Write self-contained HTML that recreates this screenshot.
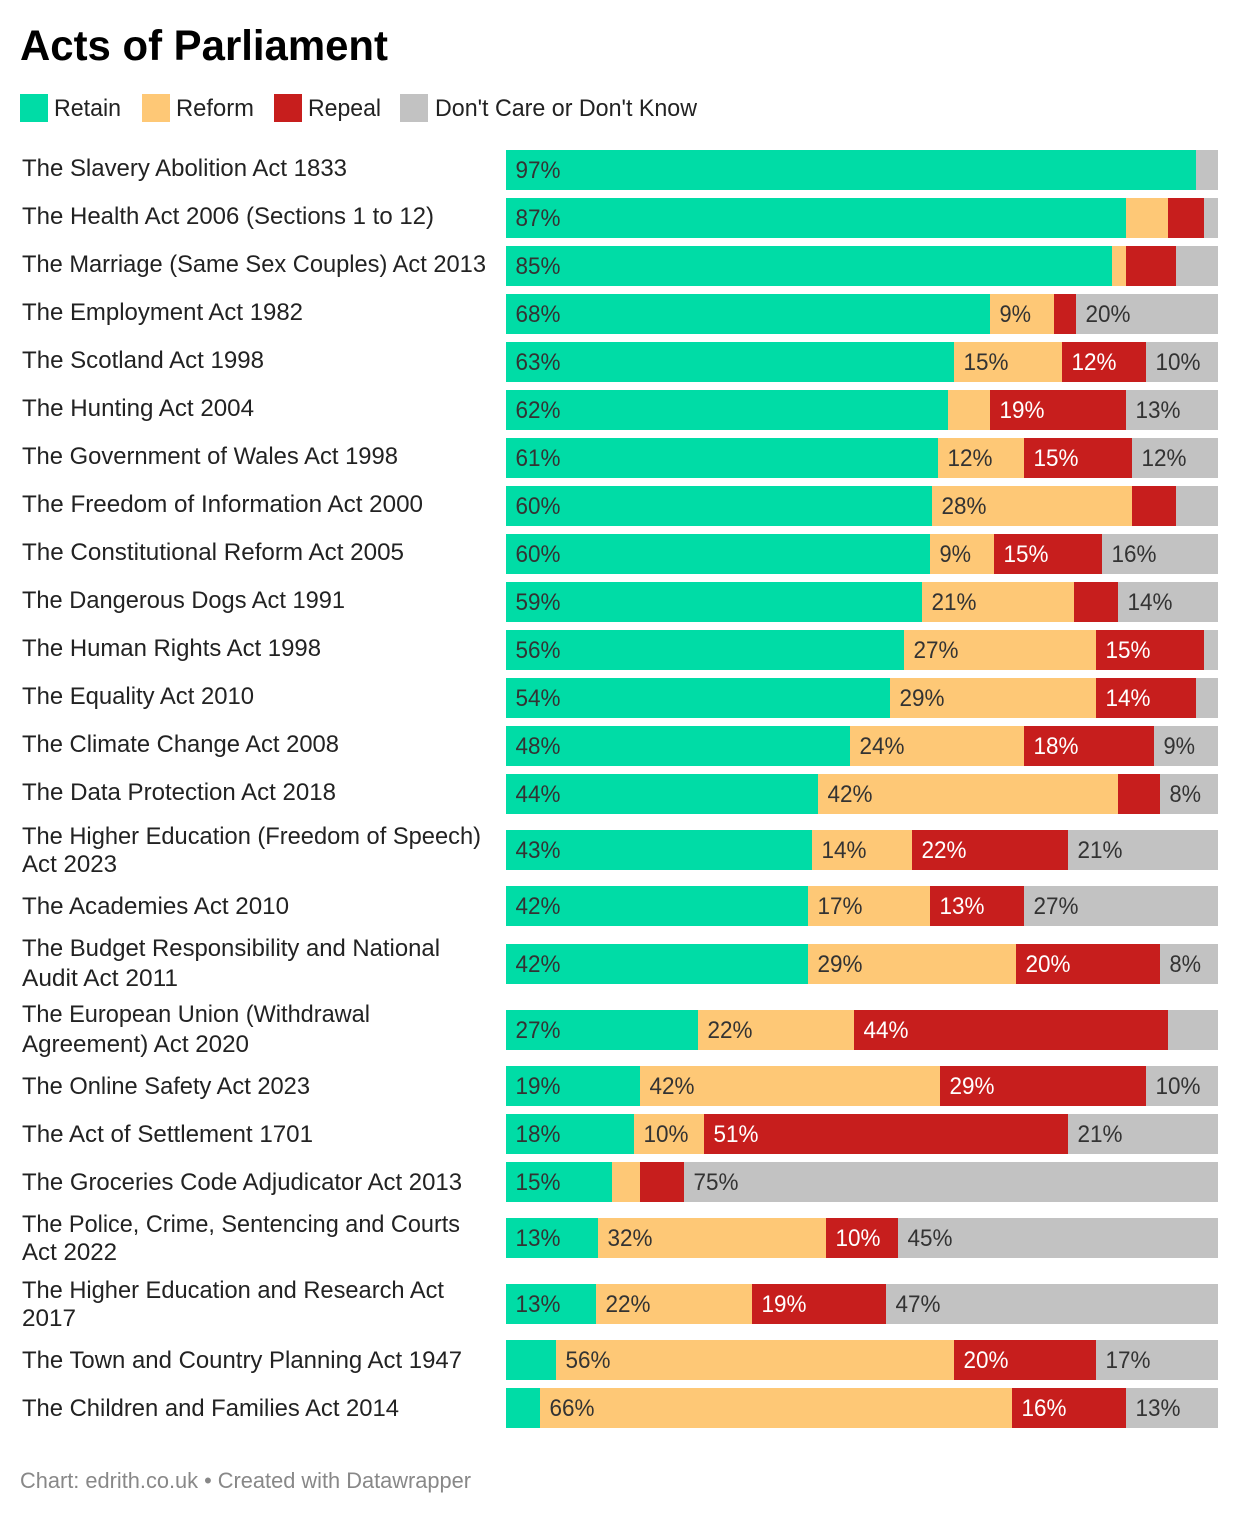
<!DOCTYPE html>
<html lang="en">
<head>
<meta charset="utf-8">
<title>Acts of Parliament</title>
<style>
  html, body { margin: 0; padding: 0; background: #fff; }
  svg { display: block; font-family: "Liberation Sans", sans-serif; }
  .row-label { font-size: 24px; fill: #222; }
  .value-label { font-size: 24px; }
  .legend-label { font-size: 24px; fill: #222; }
</style>
</head>
<body>
<svg id="chart" xmlns="http://www.w3.org/2000/svg" width="1240" height="1516" viewBox="0 0 1240 1516">
  <text x="20" y="60" font-size="43" font-weight="700" fill="#000" textLength="368" lengthAdjust="spacingAndGlyphs">Acts of Parliament</text>
  <g>
    <rect x="20" y="94" width="28" height="28" fill="#00dca6"/>
    <text class="legend-label" x="54" y="116" textLength="67" lengthAdjust="spacingAndGlyphs">Retain</text>
    <rect x="142" y="94" width="28" height="28" fill="#fec876"/>
    <text class="legend-label" x="176" y="116" textLength="78" lengthAdjust="spacingAndGlyphs">Reform</text>
    <rect x="274" y="94" width="28" height="28" fill="#c71e1d"/>
    <text class="legend-label" x="308" y="116" textLength="73" lengthAdjust="spacingAndGlyphs">Repeal</text>
    <rect x="400" y="94" width="28" height="28" fill="#c2c2c2"/>
    <text class="legend-label" x="435" y="116" textLength="262" lengthAdjust="spacingAndGlyphs">Don't Care or Don't Know</text>
  </g>
  <g id="rows"></g>
  <text x="20" y="1488" font-size="22" fill="#888" textLength="451" lengthAdjust="spacingAndGlyphs">Chart: edrith.co.uk • Created with Datawrapper</text>
</svg>
<script>
const categories = [
  "The Slavery Abolition Act 1833",
  "The Health Act 2006 (Sections 1 to 12)",
  "The Marriage (Same Sex Couples) Act 2013",
  "The Employment Act 1982",
  "The Scotland Act 1998",
  "The Hunting Act 2004",
  "The Government of Wales Act 1998",
  "The Freedom of Information Act 2000",
  "The Constitutional Reform Act 2005",
  "The Dangerous Dogs Act 1991",
  "The Human Rights Act 1998",
  "The Equality Act 2010",
  "The Climate Change Act 2008",
  "The Data Protection Act 2018",
  "The Higher Education (Freedom of Speech)\nAct 2023",
  "The Academies Act 2010",
  "The Budget Responsibility and National\nAudit Act 2011",
  "The European Union (Withdrawal\nAgreement) Act 2020",
  "The Online Safety Act 2023",
  "The Act of Settlement 1701",
  "The Groceries Code Adjudicator Act 2013",
  "The Police, Crime, Sentencing and Courts\nAct 2022",
  "The Higher Education and Research Act\n2017",
  "The Town and Country Planning Act 1947",
  "The Children and Families Act 2014"
];
const retain = [96.9, 87.1, 85.1, 68.0, 62.9, 62.1, 60.7, 59.8, 59.6, 58.5, 55.9, 53.9, 48.3, 43.8, 43.0, 42.4, 42.4, 27.0, 18.8, 18.0, 14.9, 12.9, 12.6, 7.0, 4.8];
const reform = [0, 5.9, 2.0, 9.0, 15.2, 5.9, 12.1, 28.1, 9.0, 21.3, 27.0, 28.9, 24.4, 42.1, 14.0, 17.1, 29.2, 21.9, 42.1, 9.8, 3.9, 32.0, 21.9, 55.9, 66.3];
const repeal = [0, 5.1, 7.0, 3.1, 11.8, 19.1, 15.2, 6.2, 15.2, 6.2, 15.2, 14.0, 18.3, 5.9, 21.9, 13.2, 20.2, 44.1, 28.9, 51.1, 6.2, 10.1, 18.8, 19.9, 16.0];
const dontCare = [3.1, 2.0, 5.9, 19.9, 10.1, 12.9, 12.1, 5.9, 16.3, 14.0, 2.0, 3.1, 9.0, 8.1, 21.1, 27.2, 8.1, 7.0, 10.1, 21.1, 75.0, 44.9, 46.6, 17.1, 12.9];

const seriesList = [
  { key: "retain", values: retain, fill: "#00dca6", text: "#333333" },
  { key: "reform", values: reform, fill: "#fec876", text: "#333333" },
  { key: "repeal", values: repeal, fill: "#c71e1d", text: "#ffffff" },
  { key: "dont-care", values: dontCare, fill: "#c2c2c2", text: "#333333" }
];

// Rendered widths of each row-label line, so the fallback font fills the same run as the reference.
const labelFit = {
  "The Slavery Abolition Act 1833": 325,
  "The Health Act 2006 (Sections 1 to 12)": 412,
  "The Marriage (Same Sex Couples) Act 2013": 464,
  "The Employment Act 1982": 281,
  "The Scotland Act 1998": 242,
  "The Hunting Act 2004": 232,
  "The Government of Wales Act 1998": 376,
  "The Freedom of Information Act 2000": 401,
  "The Constitutional Reform Act 2005": 382,
  "The Dangerous Dogs Act 1991": 323,
  "The Human Rights Act 1998": 299,
  "The Equality Act 2010": 232,
  "The Climate Change Act 2008": 317,
  "The Data Protection Act 2018": 314,
  "The Higher Education (Freedom of Speech)": 459,
  "Act 2023": 95,
  "The Academies Act 2010": 267,
  "The Budget Responsibility and National": 418,
  "Audit Act 2011": 156,
  "The European Union (Withdrawal": 348,
  "Agreement) Act 2020": 227,
  "The Online Safety Act 2023": 288,
  "The Act of Settlement 1701": 291,
  "The Groceries Code Adjudicator Act 2013": 440,
  "The Police, Crime, Sentencing and Courts": 438,
  "Act 2022": 95,
  "The Higher Education and Research Act": 422,
  "2017": 54,
  "The Town and Country Planning Act 1947": 440,
  "The Children and Families Act 2014": 377
};

const SVG_NS = "http://www.w3.org/2000/svg";
const PLOT_LEFT = 506;
const PLOT_RIGHT = 1218;
const BAR_HEIGHT = 40;
const FIRST_BAR_TOP = 150;
const MIN_LABELLED = 7.5;

// Axis: percentage share to an even pixel position, matching the reference's snapping.
function xScale(pct) {
  const perPct = (PLOT_RIGHT - PLOT_LEFT) / 100;
  return Math.min(PLOT_RIGHT, PLOT_LEFT + Math.round(pct * perPct / 2) * 2);
}

function lineCount(i) {
  return categories[i].split("\n").length;
}

// Row layout: the bar step depends on how many label lines sit on each side of it.
function rowTop(i) {
  let y = FIRST_BAR_TOP;
  for (let r = 0; r < i; r++) {
    const total = lineCount(r) + lineCount(r + 1);
    y += total === 2 ? 48 : total === 3 ? 56 : 66;
    if (r === 15) y += 2;
  }
  return y;
}

function labelLineOffsets(i) {
  if (lineCount(i) === 1) return [i >= 15 ? 28 : 26];
  const wideLeading = i === 16 || i === 17;
  return wideLeading ? [12, 42] : [14, 42];
}

const rowsGroup = document.getElementById("rows");

categories.forEach(function (category, i) {
  const top = rowTop(i);

  const row = document.createElementNS(SVG_NS, "g");
  
  
  rowsGroup.appendChild(row);

  const offsets = labelLineOffsets(i);
  category.split("\n").forEach(function (line, lineIndex) {
    const label = document.createElementNS(SVG_NS, "text");
    
    
    label.setAttribute("class", "row-label");
    label.setAttribute("x", 22);
    label.setAttribute("y", top + offsets[lineIndex]);
    label.setAttribute("textLength", labelFit[line]);
    label.setAttribute("lengthAdjust", "spacingAndGlyphs");
    label.textContent = line;
    row.appendChild(label);
  });

  let cumulative = 0;
  seriesList.forEach(function (series, s) {
    const value = series.values[i];
    const start = xScale(cumulative);
    cumulative += value;
    const end = s === seriesList.length - 1 ? PLOT_RIGHT : xScale(cumulative);
    if (value <= 0) return;

    const bar = document.createElementNS(SVG_NS, "rect");
    
    
    bar.setAttribute("x", start);
    bar.setAttribute("y", top);
    bar.setAttribute("width", end - start);
    bar.setAttribute("height", BAR_HEIGHT);
    bar.setAttribute("fill", series.fill);
    row.appendChild(bar);

    if (value >= MIN_LABELLED) {
      const text = document.createElementNS(SVG_NS, "text");
      
      
      text.setAttribute("class", "value-label");
      text.setAttribute("x", start + 9.5);
      text.setAttribute("y", top + 28);
      text.setAttribute("fill", series.text);
      text.textContent = Math.round(value) + "%";
      text.setAttribute("textLength", text.textContent.length === 3 ? 45 : 31.5);
      text.setAttribute("lengthAdjust", "spacingAndGlyphs");
      row.appendChild(text);
    }
  });
});
</script>
</body>
</html>
